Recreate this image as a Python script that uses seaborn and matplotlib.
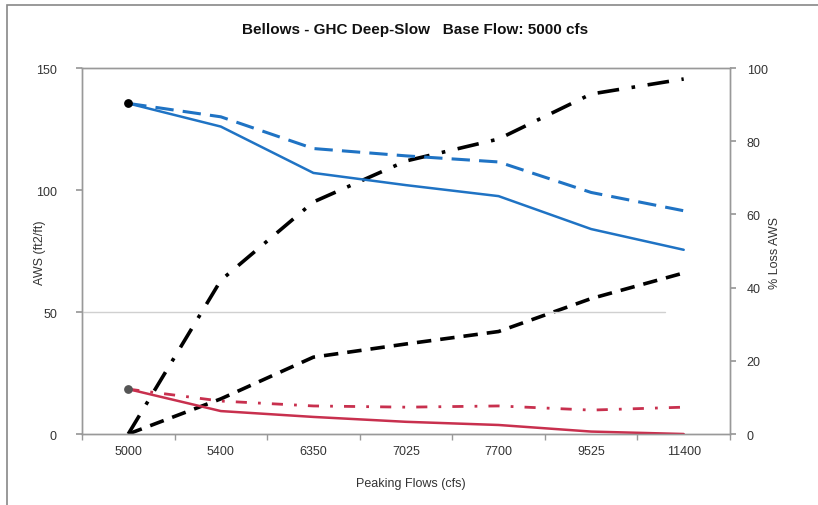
import pandas as pd
import seaborn as sns
import matplotlib.pyplot as plt
from matplotlib.patches import Rectangle

flows = ['5000', '5400', '6350', '7025', '7700', '9525', '11400']
aws_blue = [135.5, 126, 107, 102, 97.5, 84, 75.5]
aws_blue_dash = [135.5, 130, 117, 114, 111.5, 99, 91.5]
aws_red = [18.4, 9.4, 7, 5, 3.7, 1, 0]
aws_red_dashdot = [18.4, 13.5, 11.5, 11, 11.5, 9.8, 11]
loss_dash = [0, 9.6, 21, 24.6, 28, 37, 44]
loss_dashdot = [0, 42, 63.4, 74.6, 80.6, 92.9, 97]

sns.set_theme(style='white')
plt.rcParams['font.family'] = ['Liberation Sans Narrow', 'Liberation Sans', 'DejaVu Sans']

df = pd.DataFrame({'pos': range(len(flows)), 'flow': flows,
                   'aws_blue': aws_blue, 'aws_blue_dash': aws_blue_dash,
                   'aws_red': aws_red, 'aws_red_dashdot': aws_red_dashdot,
                   'loss_dash': loss_dash, 'loss_dashdot': loss_dashdot})

fig = plt.figure(figsize=(8.18, 5.06), dpi=100)
ax = fig.add_axes([0.1002, 0.1403, 0.7922, 0.7233])
ax2 = ax.twinx()

blue = '#1f73c4'
red = '#c8304e'

sns.lineplot(df, x='pos', y='loss_dashdot', ax=ax2, color='black', lw=2.6)
ax2.lines[-1].set_dashes([6, 3.5, 1, 3.5])
sns.lineplot(df, x='pos', y='loss_dash', ax=ax2, color='black', lw=2.6)
ax2.lines[-1].set_dashes([4, 2.5])

sns.lineplot(df, x='pos', y='aws_blue_dash', ax=ax, color=blue, lw=2.2)
ax.lines[-1].set_dashes([6, 3])
sns.lineplot(df, x='pos', y='aws_blue', ax=ax, color=blue, lw=1.8)
sns.lineplot(df, x='pos', y='aws_red_dashdot', ax=ax, color=red, lw=2.0)
ax.lines[-1].set_dashes([4, 4, 1, 4])
sns.lineplot(df, x='pos', y='aws_red', ax=ax, color=red, lw=1.8)
ax.scatter([0], [aws_blue[0]], color='black', s=28, zorder=5)
ax.scatter([0], [aws_red[0]], color='#555555', s=28, zorder=5)

# keep main axis on top of the twin
ax.set_zorder(ax2.get_zorder() + 1)
ax.patch.set_visible(False)

ax.axhline(50, xmin=0, xmax=0.9, color='#d0d0d0', lw=1, zorder=0)

ax.set_xlim(-0.5, len(flows) - 0.5)
ax.set_ylim(0, 150)
ax2.set_ylim(0, 100)
ax.set_xticks(range(len(flows)))
ax.set_xticklabels(flows)
ax.set_xticks([i + 0.5 for i in range(-1, len(flows))], minor=True)
ax.set_yticks([0, 50, 100, 150])
ax2.set_yticks([0, 20, 40, 60, 80, 100])
ax.tick_params(axis='x', which='major', length=0, labelsize=9, colors='#333333', pad=8)
ax.tick_params(axis='x', which='minor', length=4, color='#999999', direction='out', bottom=True)
ax.tick_params(axis='y', length=4, color='#999999', left=True, labelsize=9, labelcolor='#333333', pad=14)
ax2.tick_params(axis='y', length=4, color='#999999', right=True, labelsize=9, labelcolor='#333333', pad=8)

for a in (ax, ax2):
    for s in a.spines.values():
        s.set_color('#999999')
        s.set_linewidth(1)

ax.set_xlabel('')
ax.set_ylabel('')
ax2.set_ylabel('')
fig.text(0.049, 0.50, 'AWS (ft2/ft)', rotation=90, ha='center', va='center', fontsize=9, color='#333333')
fig.text(0.947, 0.50, '% Loss AWS', rotation=90, ha='center', va='center', fontsize=9, color='#333333')
fig.text(0.502, 0.043, 'Peaking Flows (cfs)', ha='center', va='center', fontsize=9, color='#333333')
fig.text(0.507, 0.94, 'Bellows - GHC Deep-Slow   Base Flow: 5000 cfs', ha='center', va='center',
         fontsize=11, fontweight='bold', color='#111111')

fig.patches.append(Rectangle((0.009, -0.2), 1.2, 1.188, transform=fig.transFigure,
                             fill=False, edgecolor='#888888', lw=1.2))

fig.savefig('out.png', dpi=100)
